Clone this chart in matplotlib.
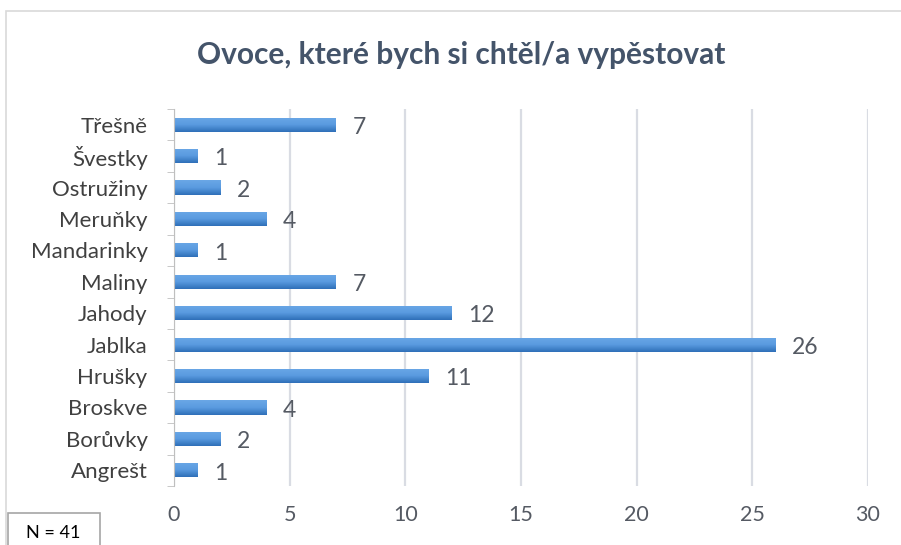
import numpy as np
import matplotlib.pyplot as plt
from matplotlib.patches import Rectangle
from matplotlib.colors import LinearSegmentedColormap

# ── Data ──────────────────────────────────────────────────────────────────────
categories = ["Angrešt", "Borůvky", "Broskve", "Hrušky", "Jablka", "Jahody",
              "Maliny", "Mandarinky", "Meruňky", "Ostružiny", "Švestky", "Třešně"]
counts = [1, 2, 4, 11, 26, 12, 7, 1, 4, 2, 1, 7]
x_ticks = [0, 5, 10, 15, 20, 25, 30]
title = "Ovoce, které bych si chtěl/a vypěstovat"
note = "N = 41"

TEXT = "#404040"
NUM = "#555a63"
GRID = "#d9dce3"
FONT = ["Lato", "DejaVu Sans"]

plt.rcParams["font.family"] = FONT

W, H = 901, 545
fig = plt.figure(figsize=(W / 100, H / 100), dpi=100)

# chart area border (Excel style)
fig.add_artist(Rectangle((6 / W, -0.1), 1.0, (H - 11) / H + 0.1,
                         transform=fig.transFigure, fill=False,
                         edgecolor="#d9d9d9", lw=1.2))

ax = fig.add_axes([174 / W, (H - 486) / H, (868 - 174) / W, (486 - 109) / H])

y = np.arange(len(categories))
bar_h = 0.45
bars = ax.barh(y, counts, height=bar_h, color="#4a8bd0", zorder=3)

# simple vertical gradient on each bar
grad = np.linspace(0, 1, 64).reshape(-1, 1)
cmap = LinearSegmentedColormap.from_list("b", ["#2f6fb8", "#5a9be0", "#6aa7e6"])
for b in bars:
    x0, y0 = b.get_x(), b.get_y()
    im = ax.imshow(grad, cmap=cmap, aspect="auto", zorder=4,
                   extent=[x0, x0 + b.get_width(), y0, y0 + b.get_height()],
                   origin="lower")
    im.set_clip_path(b)

for yi, v in zip(y, counts):
    ax.annotate(str(v), (v, yi), xytext=(12, -2), textcoords="offset points",
                va="center", ha="left", fontsize=16.5, color=NUM)

ax.set_xlim(0, 30)
ax.set_ylim(-0.5, len(categories) - 0.5)
ax.set_xticks(x_ticks)
ax.set_xticklabels([str(t) for t in x_ticks], fontsize=15.5, color=NUM)
ax.set_yticks(y)
ax.set_yticklabels(categories, fontsize=16, color=TEXT)
ax.tick_params(axis="y", length=0, pad=19)
ax.tick_params(axis="x", length=0, pad=14)

# minor ticks at category boundaries on the left axis
ax.set_yticks(np.arange(-0.5, len(categories)), minor=True)
ax.tick_params(axis="y", which="minor", length=5, color="#bfbfbf", direction="out")

ax.grid(axis="x", color=GRID, lw=1.6, zorder=0)
for s in ["top", "right", "bottom"]:
    ax.spines[s].set_visible(False)
ax.spines["left"].set_color("#bfbfbf")
ax.spines["left"].set_zorder(5)

fig.text(461 / W, 1 - 55 / H, title, ha="center", va="center",
         fontsize=21.5, fontweight="bold", color="#44546a")

# N box, cut off by the bottom edge like in the original
fig.add_artist(Rectangle((8 / W, -0.05), 92 / W, (H - 513) / H + 0.05,
                         transform=fig.transFigure, fc="white",
                         ec="#a6a6a6", lw=1.2, zorder=10))
fig.text(53 / W, 1 - 533 / H, note, ha="center", va="center", fontsize=13,
         color="#000000", zorder=11)

fig.savefig("out.png", dpi=100)
